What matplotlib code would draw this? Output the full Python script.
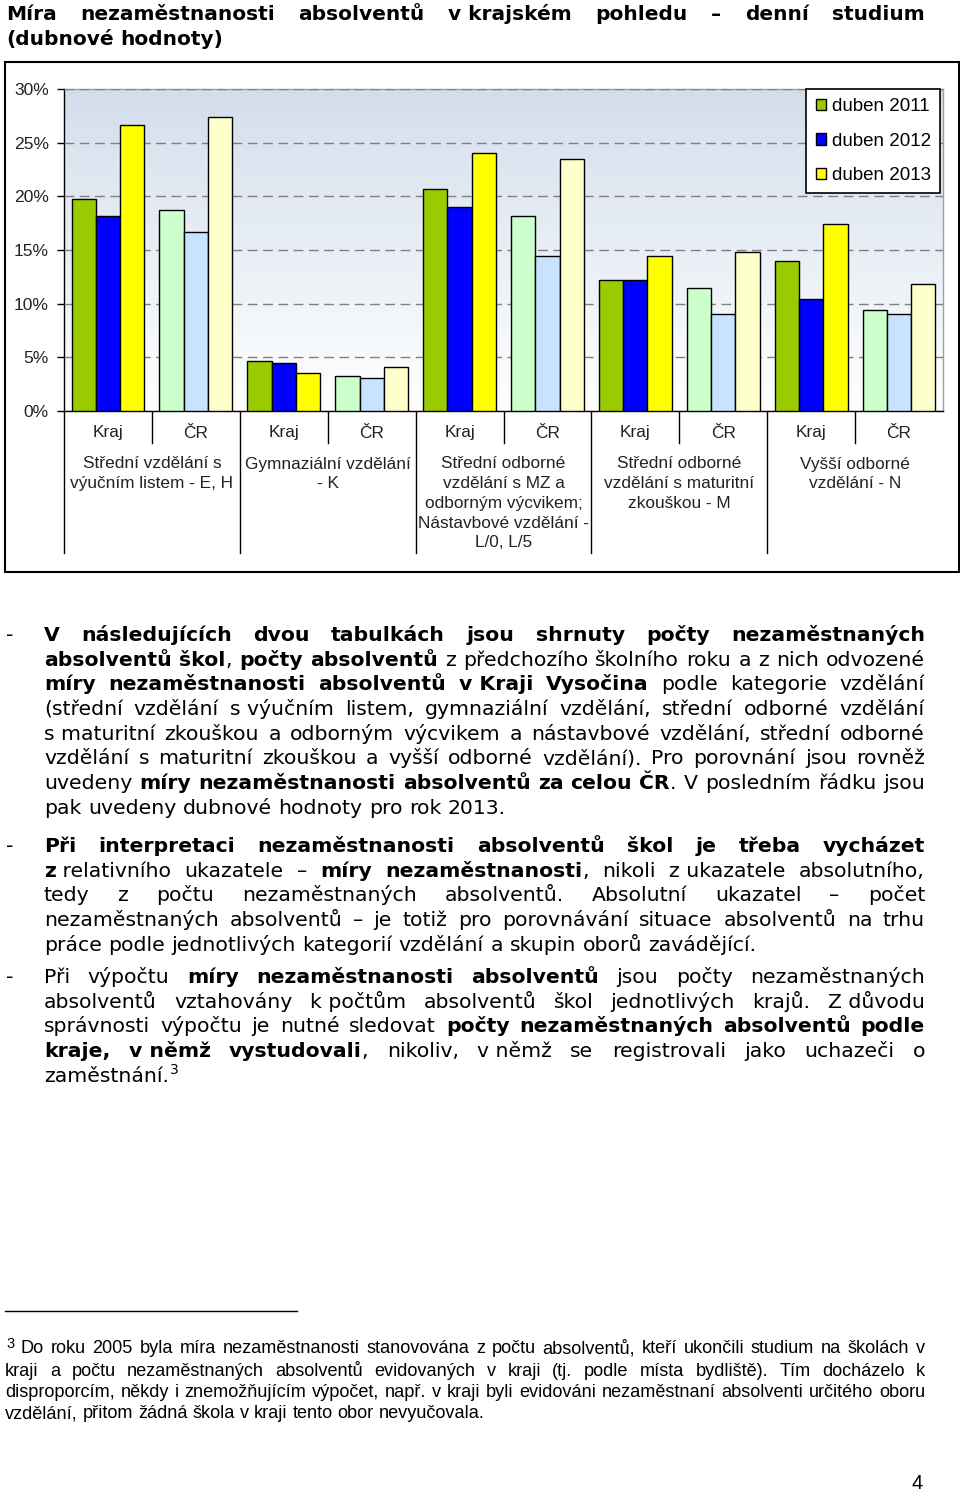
import numpy as np
import matplotlib
matplotlib.use('Agg')
import matplotlib.pyplot as plt
from matplotlib.patches import Rectangle, Patch
from matplotlib.font_manager import FontProperties
from matplotlib.transforms import blended_transform_factory
from matplotlib.colors import LinearSegmentedColormap

# ---------------- data ----------------
groups = ['Střední vzdělání s\nvýučním listem - E, H',
          'Gymnaziální vzdělání\n- K',
          'Střední odborné\nvzdělání s MZ a\nodborným výcvikem;\nNástavbové vzdělání -\nL/0, L/5',
          'Střední odborné\nvzdělání s maturitní\nzkouškou - M',
          'Vyšší odborné\nvzdělání - N']
subcats = ['Kraj', 'ČR']
years = ['duben 2011', 'duben 2012', 'duben 2013']
kraj_2011 = [19.75, 4.7, 20.7, 12.2, 14.0]
kraj_2012 = [18.2, 4.5, 19.05, 12.2, 10.4]
kraj_2013 = [26.6, 3.5, 24.0, 14.4, 17.4]
cr_2011 = [18.75, 3.3, 18.2, 11.5, 9.45]
cr_2012 = [16.7, 3.1, 14.4, 9.05, 9.05]
cr_2013 = [27.4, 4.1, 23.5, 14.8, 11.85]
yticks = [0, 5, 10, 15, 20, 25, 30]
ytick_labels = ['0%', '5%', '10%', '15%', '20%', '25%', '30%']

kraj_colors = ['#99CC00', '#0000FF', '#FFFF00']
cr_colors = ['#CCFFCC', '#C8E3FF', '#FFFFCC']

title_lines = ['Míra nezaměstnanosti absolventů v~krajském pohledu – denní studium',
               '(dubnové hodnoty)']

par1 = ['*V následujících dvou tabulkách jsou shrnuty počty nezaměstnaných*',
        '*absolventů škol*, *počty absolventů* z předchozího školního roku a z nich odvozené',
        '*míry nezaměstnanosti absolventů v~Kraji Vysočina* podle kategorie vzdělání',
        '(střední vzdělání s~výučním listem, gymnaziální vzdělání, střední odborné vzdělání',
        's~maturitní zkouškou a odborným výcvikem a nástavbové vzdělání, střední odborné',
        'vzdělání s maturitní zkouškou a vyšší odborné vzdělání). Pro porovnání jsou rovněž',
        'uvedeny *míry nezaměstnanosti absolventů za celou ČR*. V posledním řádku jsou',
        'pak uvedeny dubnové hodnoty pro rok 2013.']
par2 = ['*Při interpretaci nezaměstnanosti absolventů škol je třeba vycházet*',
        '*z*~relativního ukazatele – *míry nezaměstnanosti*, nikoli z~ukazatele absolutního,',
        'tedy z počtu nezaměstnaných absolventů. Absolutní ukazatel – počet',
        'nezaměstnaných absolventů – je totiž pro porovnávání situace absolventů na trhu',
        'práce podle jednotlivých kategorií vzdělání a skupin oborů zavádějící.']
par3 = ['Při výpočtu *míry nezaměstnanosti absolventů* jsou počty nezaměstnaných',
        'absolventů vztahovány k~počtům absolventů škol jednotlivých krajů. Z~důvodu',
        'správnosti výpočtu je nutné sledovat *počty nezaměstnaných absolventů podle*',
        '*kraje, v~němž vystudovali*, nikoliv, v~němž se registrovali jako uchazeči o',
        'zaměstnání.']
foot = ['Do roku 2005 byla míra nezaměstnanosti stanovována z počtu absolventů, kteří ukončili studium na školách v',
        'kraji a počtu nezaměstnaných absolventů evidovaných v kraji (tj. podle místa bydliště). Tím docházelo k',
        'disproporcím, někdy i znemožňujícím výpočet, např. v kraji byli evidováni nezaměstnaní absolventi určitého oboru',
        'vzdělání, přitom žádná škola v kraji tento obor nevyučovala.']

# ---------------- figure ----------------
W, H = 960, 1491
fig = plt.figure(figsize=(W / 100, H / 100), dpi=100)
over = fig.add_axes([0, 0, 1, 1], zorder=0)
over.set_xlim(0, W)
over.set_ylim(H, 0)
over.axis('off')
renderer = fig.canvas.get_renderer()

# chart frame
over.add_patch(Rectangle((5, 62), 954, 510, facecolor='white', edgecolor='black', lw=1.5))

L, R, T, B = 64, 943, 89, 411
ax = fig.add_axes([L / W, 1 - B / H, (R - L) / W, (B - T) / H], zorder=2)

grad = LinearSegmentedColormap.from_list('g', ['#FFFFFF', '#D3DEEC'])
ax.imshow(np.linspace(0, 1, 256).reshape(-1, 1), cmap=grad, aspect='auto',
          extent=(-0.5, 9.5, 0, 30), origin='lower', zorder=0)

w = 0.276
xk = np.arange(len(groups)) * 2
xc = xk + 1
for i, (kv, cv, kc, cc) in enumerate(zip([kraj_2011, kraj_2012, kraj_2013],
                                          [cr_2011, cr_2012, cr_2013],
                                          kraj_colors, cr_colors)):
    off = (i - 1) * w
    ax.bar(xk + off, kv, w, color=kc, edgecolor='black', lw=1, zorder=3)
    ax.bar(xc + off, cv, w, color=cc, edgecolor='black', lw=1, zorder=3)

ax.set_xlim(-0.5, 9.5)
ax.set_ylim(0, 30)
ax.set_xticks([])
ax.set_yticks(yticks)
ax.set_yticklabels(ytick_labels, fontfamily='Liberation Sans', fontsize=12.6, color='#222222')
ax.tick_params(axis='y', direction='out', length=5, width=1, pad=6.0, color='black')
ax.yaxis.grid(True, color='#808080', lw=1, ls=(0, (7, 4)), zorder=1)
ax.set_axisbelow(False)
for s in ['left', 'bottom']:
    ax.spines[s].set_color('black')
    ax.spines[s].set_linewidth(1)
for s in ['top', 'right']:
    ax.spines[s].set_color('#A0A0A0')
    ax.spines[s].set_linewidth(1)

handles = [Patch(facecolor=c, edgecolor='black', lw=1) for c in kraj_colors]
leg = ax.legend(handles, years, loc='upper right', bbox_to_anchor=(1 - 3 / (R - L), 1.0),
                borderaxespad=0, frameon=True, fancybox=False, edgecolor='black', framealpha=1,
                prop=FontProperties(family='Liberation Sans', size=13.5),
                handlelength=0.55, handleheight=0.55, handletextpad=0.3,
                labelspacing=0.92, borderpad=0.5)
leg.get_frame().set_linewidth(1.2)
leg.set_zorder(5)

# category labels
trans = blended_transform_factory(ax.transData, over.transData)
catfp = FontProperties(family='Liberation Sans', size=12.4)
for g in range(len(groups)):
    for j, sc in enumerate(subcats):
        over.text(2 * g + j, 433, sc, fontproperties=catfp, ha='center', va='center',
                  color='#222222', transform=trans)
    for k, ln in enumerate(groups[g].split('\n')):
        over.text(2 * g + 0.5, 464 + k * 19.7, ln, fontproperties=catfp, ha='center',
                  va='center', color='#222222', transform=trans)
    over.plot([2 * g + 0.5] * 2, [411, 443], color='black', lw=1, transform=trans)
    over.plot([2 * g - 0.5] * 2, [411, 553], color='black', lw=1, transform=trans)


# ---------------- justified text ----------------
def text_width(s, fp):
    wd, _, _ = renderer.get_text_width_height_descent(s, fp, ismath=False)
    return wd


def draw_line(line, x0, x1, y, fam, size, justify, color='black'):
    words = []
    bold = False
    for tok in line.split(' '):
        runs = []
        buf = ''
        for ch in tok:
            if ch == '*':
                if buf:
                    runs.append((buf.replace('~', ' '), bold))
                    buf = ''
                bold = not bold
            else:
                buf += ch
        if buf:
            runs.append((buf.replace('~', ' '), bold))
        words.append(runs)
    fps = {False: FontProperties(family=fam, size=size),
           True: FontProperties(family=fam, size=size, weight='bold')}
    widths = [[text_width(t, fps[b]) for t, b in runs] for runs in words]
    totals = [sum(ws) for ws in widths]
    space = text_width('a a', fps[False]) - text_width('aa', fps[False])
    if justify and len(words) > 1:
        gap = (x1 - x0 - sum(totals)) / (len(words) - 1)
    else:
        gap = space
    x = x0
    end = x0
    for runs, ws in zip(words, widths):
        for (t, b), wd in zip(runs, ws):
            over.text(x, y, t, fontproperties=fps[b], ha='left', va='baseline', color=color)
            x += wd
        end = x
        x += gap
    return end


# title
draw_line('*' + title_lines[0] + '*', 6, 925, 20, 'DejaVu Sans', 14.5, True)
draw_line('*' + title_lines[1] + '*', 6, 925, 45, 'DejaVu Sans', 14.5, False)

BODY = 14.65
LS = 24.7
for par, y0 in [(par1, 641), (par2, 852), (par3, 983)]:
    over.text(6, y0, '-', fontfamily='DejaVu Sans', fontsize=BODY, va='baseline')
    for i, ln in enumerate(par):
        xe = draw_line(ln, 44, 925, y0 + i * LS, 'DejaVu Sans', BODY, i < len(par) - 1)
# footnote reference mark after the last word
over.text(xe + 1, y0 + 4 * LS - 8, '3', fontfamily='DejaVu Sans', fontsize=10, va='baseline')

# footnote
over.plot([5, 297], [1311, 1311], color='black', lw=1)
over.text(6, 1348, '3', fontfamily='Liberation Sans', fontsize=10.5, va='baseline')
fy = [1353, 1375.5, 1397, 1418.5]
for i, ln in enumerate(foot):
    draw_line(ln, 21 if i == 0 else 5, 925, fy[i], 'Liberation Sans', 13.1, i < len(foot) - 1)

over.text(912, 1489, '4', fontfamily='Liberation Sans', fontsize=14.5, va='baseline')

fig.savefig('out.png', dpi=100)
